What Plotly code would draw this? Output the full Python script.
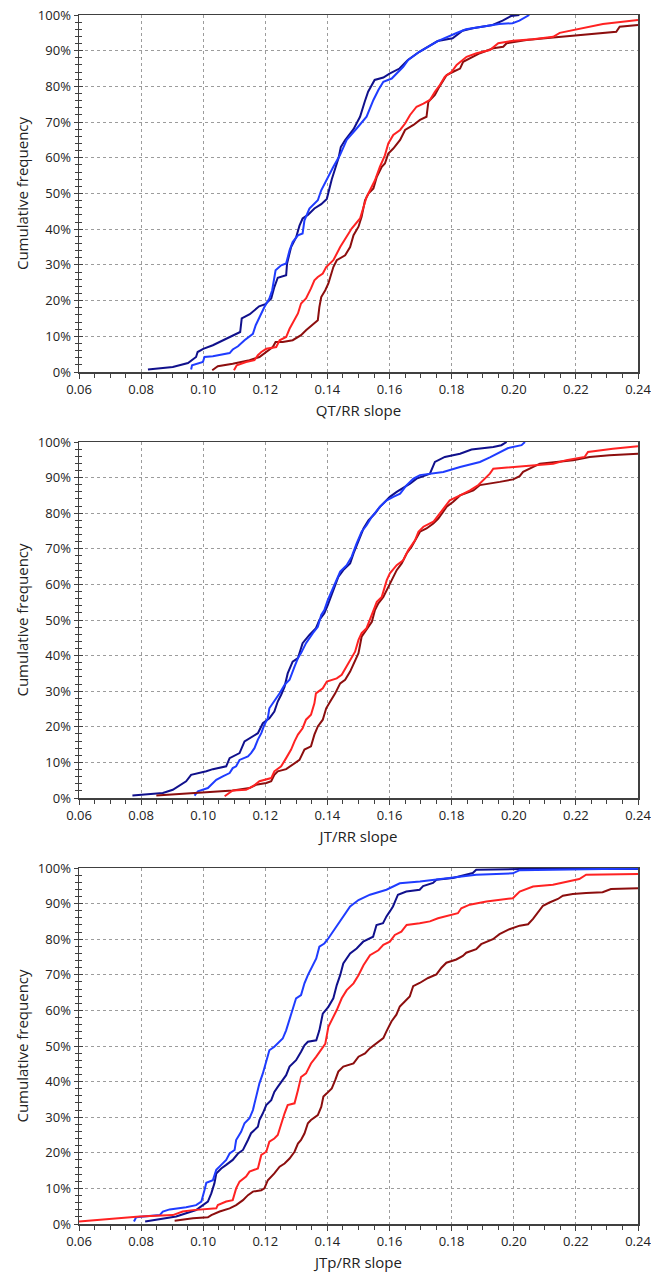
import plotly.graph_objects as go

# ---------------- data (x = slope, y = cumulative frequency in %) ----------------
x_ticks = [0.06, 0.08, 0.10, 0.12, 0.14, 0.16, 0.18, 0.20, 0.22, 0.24]
panel_titles = ["QT/RR slope", "JT/RR slope", "JTp/RR slope"]
series_names = ["navy", "blue", "darkred", "red"]

# Panel 1: QT/RR
qt_navy_x = [0.0822,0.0902,0.0951,0.0977,0.0982,0.1000,0.1031,0.1074,0.1112,0.1119,0.1124,0.1150,0.1180,0.1200,0.1219,0.1229,0.1240,0.1267,0.1270,0.1283,0.1299,0.1310,0.1320,0.1337,0.1358,0.1380,0.1398,0.1405,0.1414,0.1425,0.1436,0.1443,0.1457,0.1484,0.1505,0.1520,0.1531,0.1552,0.1580,0.1600,0.1632,0.1659,0.1696,0.1755,0.1803,0.1835,0.1868,0.1932,0.1964,0.1991,0.2018]
qt_navy_y = [0.7,1.4,2.5,4.2,5.6,6.5,7.5,9.3,10.7,11.2,15.0,16.2,18.4,19.0,20.6,23.8,26.4,27.1,30.4,35.0,37.7,41.0,43.0,44.0,45.8,47.0,48.5,51.0,54.0,57.0,60.0,63.0,65.0,68.0,71.5,75.7,78.5,81.8,82.5,83.6,85.0,87.4,89.7,92.7,93.5,95.6,96.3,97.2,98.4,99.7,100]
qt_blue_x = [0.0961,0.0964,0.0999,0.1004,0.1031,0.1085,0.1095,0.1112,0.1133,0.1160,0.1169,0.1181,0.1197,0.1213,0.1222,0.1233,0.1251,0.1267,0.1278,0.1288,0.1305,0.1320,0.1326,0.1342,0.1369,0.1380,0.1401,0.1419,0.1440,0.1462,0.1494,0.1526,0.1548,0.1564,0.1580,0.1607,0.1644,0.1660,0.1696,0.1755,0.1814,0.1846,0.1953,0.1996,0.2018,0.2030,0.2050]
qt_blue_y = [0.7,1.9,2.8,4.2,4.4,5.3,6.3,7.2,8.9,10.7,13.1,15.4,18.2,20.6,22.9,28.5,29.9,30.4,34.1,36.4,38.3,38.8,42.5,45.8,48.1,50.9,54.7,57.5,60.7,65.0,68.2,71.5,76.2,79.0,81.3,82.2,85.5,87.4,89.7,92.7,94.9,96.0,97.5,97.7,98.4,99.0,100]
qt_red_x = [0.1099,0.1108,0.1138,0.1165,0.1176,0.1187,0.1203,0.1235,0.1246,0.1267,0.1278,0.1294,0.1305,0.1315,0.1331,0.1347,0.1358,0.1369,0.1385,0.1396,0.1419,0.1441,0.1457,0.1478,0.1505,0.1516,0.1526,0.1537,0.1553,0.1569,0.1585,0.1596,0.1612,0.1634,0.1650,0.1666,0.1687,0.1709,0.1730,0.1746,0.1762,0.1778,0.1800,0.1816,0.1848,0.1880,0.1923,0.1950,0.1998,0.2062,0.2127,0.2148,0.2202,0.2287,0.2400]
qt_red_y = [0.5,1.9,2.8,3.3,4.7,5.6,6.5,7.0,8.9,9.8,12.1,14.5,16.4,19.2,20.6,23.4,25.7,26.6,27.6,29.4,31.3,35.0,37.4,40.2,43.0,46.3,49.0,50.9,53.7,57.5,60.7,64.0,66.4,67.8,69.6,72.0,74.3,75.2,76.2,78.5,80.4,82.7,84.1,86.0,88.3,89.3,90.2,92.1,92.8,93.2,93.9,95.0,96.0,97.5,98.6]
qt_darkred_x = [0.1029,0.1047,0.1095,0.1149,0.1181,0.1203,0.1224,0.1233,0.1256,0.1288,0.1315,0.1331,0.1358,0.1369,0.1374,0.1380,0.1393,0.1403,0.1419,0.1430,0.1457,0.1473,0.1484,0.1500,0.1510,0.1521,0.1532,0.1548,0.1559,0.1575,0.1585,0.1596,0.1612,0.1634,0.1650,0.1677,0.1698,0.1719,0.1725,0.1746,0.1757,0.1768,0.1784,0.1805,0.1827,0.1837,0.1859,0.1891,0.1934,0.1966,0.1977,0.2041,0.2127,0.2234,0.2330,0.2341,0.2400]
qt_darkred_y = [0.5,1.6,2.3,3.3,4.2,5.6,7.0,8.4,8.4,8.9,10.3,11.7,13.6,14.5,18.2,21.0,22.9,24.8,29.4,31.3,32.7,35.0,38.3,40.7,43.5,48.1,50.0,51.4,54.7,57.5,58.4,61.2,62.6,65.0,67.8,69.2,70.6,71.5,75.7,77.6,79.4,80.8,83.2,84.1,85.0,86.9,87.9,89.3,90.7,91.1,92.1,93.0,93.7,94.6,95.3,96.7,97.2]

# Panel 2: JT/RR
jt_navy_x = [0.0772,0.0870,0.0902,0.0929,0.0945,0.0961,0.0988,0.1010,0.1031,0.1074,0.1085,0.1117,0.1133,0.1160,0.1176,0.1192,0.1213,0.1229,0.1240,0.1251,0.1262,0.1272,0.1288,0.1305,0.1320,0.1342,0.1363,0.1374,0.1390,0.1401,0.1419,0.1435,0.1451,0.1473,0.1484,0.1500,0.1516,0.1532,0.1553,0.1569,0.1591,0.1601,0.1623,0.1650,0.1666,0.1687,0.1730,0.1746,0.1778,0.1827,0.1864,0.1934,0.1960,0.1977]
jt_navy_y = [0.7,1.4,2.3,3.7,4.7,6.5,7.0,7.5,8.1,8.9,11.2,12.6,15.9,17.3,18.2,21.0,22.4,24.3,27.1,29.0,31.3,35.0,38.3,39.3,43.5,45.8,47.7,50.0,51.9,54.2,58.4,62.1,64.0,65.9,68.7,72.4,75.7,78.0,79.9,81.8,83.6,84.6,86.0,87.4,88.3,89.7,91.1,94.4,95.8,96.7,97.9,98.6,99.1,100]
jt_blue_x = [0.0972,0.0983,0.1015,0.1031,0.1042,0.1063,0.1085,0.1095,0.1106,0.1117,0.1144,0.1154,0.1165,0.1176,0.1187,0.1197,0.1208,0.1213,0.1229,0.1246,0.1262,0.1278,0.1294,0.1305,0.1315,0.1331,0.1353,0.1369,0.1380,0.1390,0.1401,0.1419,0.1441,0.1462,0.1478,0.1494,0.1510,0.1526,0.1543,0.1569,0.1591,0.1612,0.1634,0.1655,0.1677,0.1698,0.1730,0.1773,0.1827,0.1891,0.1923,0.1955,0.1982,0.2025,0.2036]
jt_blue_y = [0.7,1.9,2.8,4.2,5.1,6.1,7.0,8.4,8.9,10.7,11.7,12.6,14.0,16.4,18.2,20.6,22.4,25.2,27.1,29.4,31.8,33.2,36.9,39.3,40.7,43.5,46.3,48.1,51.4,52.8,55.6,59.3,63.6,65.4,67.8,71.5,74.8,76.6,79.0,81.8,83.6,84.6,85.5,87.9,89.7,90.7,91.1,91.6,93.0,94.4,95.7,97.2,98.3,99.1,100]
jt_red_x = [0.1069,0.1085,0.1095,0.1138,0.1160,0.1181,0.1203,0.1219,0.1229,0.1251,0.1267,0.1283,0.1294,0.1305,0.1320,0.1331,0.1347,0.1358,0.1363,0.1385,0.1398,0.1430,0.1446,0.1462,0.1478,0.1489,0.1500,0.1510,0.1526,0.1537,0.1548,0.1559,0.1575,0.1591,0.1601,0.1623,0.1644,0.1660,0.1682,0.1693,0.1709,0.1741,0.1757,0.1773,0.1794,0.1827,0.1859,0.1886,0.1902,0.1923,0.1934,0.1998,0.2062,0.2127,0.2169,0.2228,0.2239,0.2319,0.2400]
jt_red_y = [0.5,1.4,2.1,2.3,3.3,4.7,5.1,5.6,7.5,8.9,11.2,13.6,15.9,17.8,19.6,22.0,23.4,26.6,29.4,30.8,32.7,33.6,34.6,36.9,39.3,41.1,44.4,46.3,47.7,50.0,52.8,55.1,56.5,61.2,63.1,65.4,66.8,69.6,72.4,74.8,76.2,77.6,79.4,81.3,83.6,85.0,86.4,87.9,89.3,91.1,92.5,93.0,93.5,93.9,94.9,95.8,97.2,98.1,98.8]
jt_darkred_x = [0.0849,0.0988,0.1095,0.1149,0.1170,0.1203,0.1219,0.1229,0.1240,0.1267,0.1288,0.1310,0.1326,0.1347,0.1358,0.1369,0.1385,0.1396,0.1409,0.1425,0.1441,0.1457,0.1473,0.1489,0.1500,0.1510,0.1526,0.1543,0.1553,0.1564,0.1580,0.1591,0.1601,0.1623,0.1639,0.1655,0.1671,0.1682,0.1698,0.1719,0.1741,0.1757,0.1768,0.1784,0.1805,0.1827,0.1870,0.1891,0.1955,0.1998,0.2019,0.2030,0.2084,0.2137,0.2191,0.2244,0.2308,0.2400]
jt_darkred_y = [0.7,1.4,2.1,2.8,3.7,4.2,4.7,6.5,7.5,8.1,9.3,10.7,13.6,14.5,17.8,20.1,22.0,25.2,27.1,29.4,32.2,33.2,35.5,38.8,40.7,45.3,47.2,49.5,52.8,54.7,56.5,58.4,60.3,64.0,65.9,68.7,70.6,72.4,74.8,75.7,77.1,78.5,79.9,81.8,83.2,85.0,86.4,87.9,88.8,89.5,90.4,91.6,93.9,94.4,94.9,95.8,96.3,96.7]

# Panel 3: JTp/RR
jtp_navy_x = [0.0813,0.0860,0.0913,0.0945,0.0977,0.0999,0.1015,0.1026,0.1036,0.1042,0.1058,0.1074,0.1095,0.1112,0.1128,0.1144,0.1154,0.1176,0.1181,0.1192,0.1203,0.1219,0.1229,0.1240,0.1256,0.1267,0.1278,0.1299,0.1315,0.1326,0.1337,0.1364,0.1374,0.1385,0.1403,0.1419,0.1430,0.1441,0.1451,0.1473,0.1494,0.1515,0.1547,0.1558,0.1579,0.1590,0.1601,0.1611,0.1627,0.1654,0.1697,0.1708,0.1740,0.1751,0.1804,0.1868,0.1879,0.2019,0.2400]
jtp_navy_y = [0.7,1.3,2.1,3.0,3.9,5.3,6.3,8.6,11.4,14.2,15.6,16.6,18.0,19.8,20.8,23.6,25.5,27.3,29.2,31.1,33.4,34.8,37.1,38.5,40.4,41.8,44.2,46.0,48.4,50.2,51.2,51.6,54.4,59.1,61.0,63.4,67.1,69.9,73.2,76.0,77.4,79.3,80.7,84.0,84.5,86.4,87.8,89.2,92.5,93.4,93.9,94.9,95.8,96.7,97.2,98.6,99.5,99.7,99.7]
jtp_blue_x = [0.0777,0.0784,0.0860,0.0870,0.0892,0.0945,0.0977,0.0994,0.1004,0.1010,0.1031,0.1042,0.1058,0.1074,0.1085,0.1101,0.1106,0.1122,0.1133,0.1149,0.1160,0.1170,0.1181,0.1192,0.1203,0.1213,0.1229,0.1256,0.1267,0.1278,0.1288,0.1299,0.1315,0.1326,0.1337,0.1353,0.1364,0.1374,0.1390,0.1401,0.1409,0.1425,0.1446,0.1473,0.1500,0.1537,0.1590,0.1633,0.1698,0.1751,0.1804,0.1879,0.1997,0.2019,0.2286,0.2400]
jtp_blue_y = [0.7,1.9,2.5,3.5,4.1,4.7,5.3,6.3,9.5,11.6,12.3,15.2,16.6,18.0,19.8,20.8,23.6,25.9,28.3,29.7,32.0,35.7,39.5,42.3,46.0,48.8,49.8,52.1,54.4,57.3,60.1,63.4,64.3,67.6,69.9,72.7,74.6,77.9,78.8,80.0,81.0,83.3,85.9,89.2,91.0,92.5,93.9,95.7,96.2,96.7,97.3,98.1,98.5,99.4,99.7,99.8]
jtp_red_x = [0.0600,0.0795,0.0902,0.0934,0.0967,0.1042,0.1047,0.1074,0.1095,0.1106,0.1117,0.1138,0.1149,0.1176,0.1187,0.1203,0.1213,0.1229,0.1240,0.1251,0.1262,0.1272,0.1294,0.1305,0.1315,0.1331,0.1347,0.1364,0.1376,0.1393,0.1403,0.1414,0.1430,0.1446,0.1462,0.1484,0.1500,0.1516,0.1537,0.1564,0.1580,0.1601,0.1617,0.1638,0.1655,0.1697,0.1730,0.1756,0.1788,0.1820,0.1831,0.1858,0.1912,0.1997,0.2019,0.2062,0.2126,0.2179,0.2211,0.2233,0.2400]
jtp_red_y = [0.7,2.1,2.5,3.5,3.9,4.4,5.3,6.3,6.7,10.0,11.9,13.3,14.7,15.6,19.4,20.3,23.1,24.0,25.0,28.3,31.1,33.4,33.9,37.6,41.3,42.3,45.1,47.0,48.4,50.6,55.4,57.3,60.1,63.4,65.7,67.6,69.9,72.7,75.5,76.9,78.4,79.3,81.2,82.1,84.0,84.5,85.0,85.9,86.6,87.3,88.7,89.7,90.6,91.5,93.4,94.8,95.3,96.2,96.9,98.1,98.3]
jtp_darkred_x = [0.0908,0.0967,0.1015,0.1026,0.1053,0.1085,0.1106,0.1128,0.1144,0.1160,0.1187,0.1197,0.1208,0.1219,0.1229,0.1246,0.1262,0.1278,0.1294,0.1305,0.1315,0.1326,0.1337,0.1347,0.1369,0.1380,0.1387,0.1398,0.1414,0.1425,0.1435,0.1451,0.1484,0.1500,0.1521,0.1537,0.1558,0.1580,0.1590,0.1606,0.1622,0.1633,0.1649,0.1665,0.1676,0.1697,0.1724,0.1751,0.1767,0.1783,0.1815,0.1836,0.1847,0.1879,0.1895,0.1933,0.1954,0.1986,0.2019,0.2046,0.2062,0.2078,0.2094,0.2115,0.2142,0.2158,0.2190,0.2233,0.2286,0.2313,0.2400]
jtp_darkred_y = [0.9,1.6,1.9,2.5,3.5,4.4,5.3,6.7,8.1,9.1,9.5,10.0,12.3,13.3,14.2,16.1,17.0,18.4,20.3,22.6,23.6,25.4,28.3,29.2,30.6,32.9,35.8,36.7,38.1,40.4,42.8,44.2,45.1,47.0,47.9,49.4,50.8,52.2,54.1,56.9,58.8,61.1,62.5,63.9,66.8,67.7,69.1,70.1,72.0,73.4,74.3,75.3,76.2,77.2,78.6,80.0,81.4,82.8,83.8,84.2,85.7,87.5,89.4,90.3,91.3,92.2,92.7,93.0,93.2,94.1,94.3]

panels = [
    {"navy": (qt_navy_x, qt_navy_y), "blue": (qt_blue_x, qt_blue_y),
     "darkred": (qt_darkred_x, qt_darkred_y), "red": (qt_red_x, qt_red_y)},
    {"navy": (jt_navy_x, jt_navy_y), "blue": (jt_blue_x, jt_blue_y),
     "darkred": (jt_darkred_x, jt_darkred_y), "red": (jt_red_x, jt_red_y)},
    {"navy": (jtp_navy_x, jtp_navy_y), "blue": (jtp_blue_x, jtp_blue_y),
     "darkred": (jtp_darkred_x, jtp_darkred_y), "red": (jtp_red_x, jtp_red_y)},
]

# ---------------- styling ----------------
colors = {"navy": "#10108c", "blue": "#1f3cff", "darkred": "#8c0e0e", "red": "#ff2222"}
FONT = "Open Sans"
AXIS_COLOR = "#404040"
GRID_COLOR = "#9c9c9c"

W, H = 651, 1274
L, R, T, B = 79, 13, 15, 50
plot_h = H - T - B
panel_px = [(15, 372), (442, 798), (868, 1224)]
domains = [[1 - (bot - T) / plot_h, 1 - (top - T) / plot_h] for top, bot in panel_px]

fig = go.Figure()
layout = dict(
    template="none",
    width=W, height=H, margin=dict(l=L, r=R, t=T, b=B, autoexpand=False),
    paper_bgcolor="white", plot_bgcolor="white", showlegend=False,
    font=dict(family=FONT, size=13, color="#222222"),
)

for i, data in enumerate(panels):
    n = i + 1
    xa = "x" if n == 1 else f"x{n}"
    ya = "y" if n == 1 else f"y{n}"
    for name in series_names:
        xs, ys = data[name]
        fig.add_trace(go.Scatter(x=xs, y=ys, mode="lines", xaxis=xa, yaxis=ya,
                                 line=dict(color=colors[name], width=2),
                                 hoverinfo="skip", name=name))
    xkey = "xaxis" if n == 1 else f"xaxis{n}"
    ykey = "yaxis" if n == 1 else f"yaxis{n}"
    layout[xkey] = dict(
        domain=[0, 1], anchor=ya, range=[0.06, 0.24], tickvals=x_ticks, tickformat=".2f",
        automargin=False, ticklabeloverflow="allow",
        showline=True, linecolor=AXIS_COLOR, linewidth=1.5, mirror=True,
        ticks="outside", ticklen=5, tickcolor=AXIS_COLOR, tickwidth=1,
        minor=dict(dtick=0.005, tick0=0.06, ticks="outside", ticklen=4,
                   tickcolor=AXIS_COLOR, showgrid=False),
        showgrid=True, gridcolor=GRID_COLOR, griddash="3px,3px", gridwidth=1,
        zeroline=False, tickfont=dict(size=13),
        title=dict(text=panel_titles[i], font=dict(size=15), standoff=8),
    )
    layout[ykey] = dict(
        domain=domains[i], anchor=xa, range=[0, 100], dtick=10, ticksuffix="%",
        automargin=False, ticklabeloverflow="allow",
        showline=True, linecolor=AXIS_COLOR, linewidth=1.5, mirror=True,
        ticks="outside", ticklen=4, tickcolor=AXIS_COLOR, tickwidth=1,
        minor=dict(dtick=2, ticks="outside", ticklen=3, tickcolor=AXIS_COLOR, showgrid=False),
        showgrid=True, gridcolor=GRID_COLOR, griddash="3px,3px", gridwidth=1,
        zeroline=False, tickfont=dict(size=13),
        title=dict(text="Cumulative frequency", font=dict(size=15), standoff=5),
    )
    # overlay axis that supplies the inward half of the crossing ticks
    ok = f"yaxis{n + 3}"
    layout[ok] = dict(
        overlaying=ya, anchor=xa, side="left", range=[0, 100], dtick=10,
        automargin=False,
        ticks="inside", ticklen=4, tickcolor=AXIS_COLOR, tickwidth=1,
        minor=dict(dtick=2, ticks="inside", ticklen=3, tickcolor=AXIS_COLOR, showgrid=False),
        showticklabels=False, showgrid=False, showline=False, zeroline=False,
    )
    fig.add_trace(go.Scatter(x=[None], y=[None], xaxis=xa, yaxis=f"y{n + 3}",
                             mode="lines", hoverinfo="skip", showlegend=False))

fig.update_layout(**layout)
# remove the browser's default body margin so the figure sits at the page corner
fig.write_html("out.html",
               config={"displayModeBar": False, "staticPlot": True},
               post_script="document.body.style.margin='0';document.body.style.overflow='hidden';")
